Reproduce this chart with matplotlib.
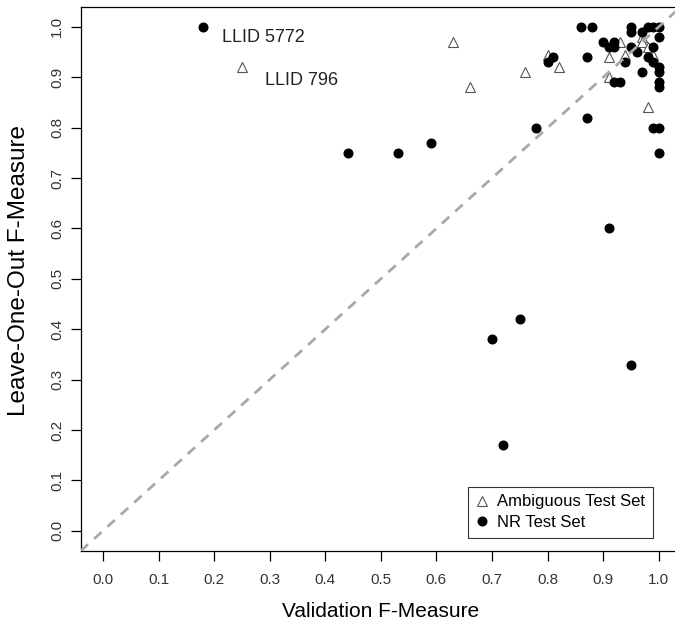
import matplotlib
matplotlib.use("Agg")
import matplotlib.pyplot as plt

plt.rcParams['font.family'] = ['Liberation Sans', 'DejaVu Sans']

# NR test set (filled circles)
nr_x = [0.18, 0.44, 0.53, 0.59, 0.78, 0.87, 0.70, 0.75, 0.72, 0.91, 0.95, 1.00,
        0.99, 1.00, 0.86, 0.88, 0.95, 0.95, 0.98, 0.99, 1.00, 0.97, 1.00,
        0.90, 0.92, 0.91, 0.92, 0.95, 0.96, 0.99, 0.98, 0.99, 1.00, 1.00,
        1.00, 1.00, 0.87, 0.80, 0.81, 0.94, 0.97, 0.92, 0.93]
nr_y = [1.00, 0.75, 0.75, 0.77, 0.80, 0.82, 0.38, 0.42, 0.17, 0.60, 0.33, 0.75,
        0.80, 0.80, 1.00, 1.00, 1.00, 0.99, 1.00, 1.00, 1.00, 0.99, 0.98,
        0.97, 0.97, 0.96, 0.96, 0.96, 0.95, 0.96, 0.94, 0.93, 0.92, 0.91,
        0.89, 0.88, 0.94, 0.93, 0.94, 0.93, 0.91, 0.89, 0.89]

# Ambiguous test set (open triangles)
amb_x = [0.25, 0.63, 0.66, 0.76, 0.80, 0.82, 0.91, 0.91, 0.93, 0.94, 0.97,
         0.97, 0.98, 0.99, 0.98]
amb_y = [0.92, 0.97, 0.88, 0.91, 0.945, 0.92, 0.94, 0.90, 0.97, 0.945, 0.98,
         0.97, 0.96, 0.945, 0.84]

ticks = [0.0, 0.1, 0.2, 0.3, 0.4, 0.5, 0.6, 0.7, 0.8, 0.9, 1.0]
tick_labels = ['0.0', '0.1', '0.2', '0.3', '0.4', '0.5', '0.6', '0.7', '0.8', '0.9', '1.0']

fig = plt.figure(figsize=(6.75, 6.31), dpi=100)
ax = fig.add_axes([80.7 / 675, 80 / 631, 600.3 / 675, 544.3 / 631])

ax.plot(amb_x, amb_y, linestyle='none', marker='^', markersize=7,
        markerfacecolor='white', markeredgecolor='#555555', markeredgewidth=0.8,
        label='Ambiguous Test Set', zorder=3)
ax.plot(nr_x, nr_y, linestyle='none', marker='o', markersize=6.2,
        markerfacecolor='black', markeredgecolor='black',
        label='NR Test Set', zorder=3)
ax.axline((0, 0), slope=1, color='#a8a8a8', linewidth=2, dashes=(3.6, 2.9), zorder=4)

ax.text(0.214, 0.970, 'LLID 5772', fontsize=13, color='#222222', va='baseline')
ax.text(0.292, 0.885, 'LLID 796', fontsize=13, color='#222222', va='baseline')

ax.set_xlim(-0.04, 1.04)
ax.set_ylim(-0.04, 1.04)
ax.set_xticks(ticks)
ax.set_xticklabels(tick_labels)
ax.set_yticks(ticks)
ax.set_yticklabels(tick_labels, rotation=90, va='center')
ax.tick_params(direction='out', length=7, width=0.9, labelsize=11,
               labelcolor='#333333')
ax.tick_params(axis='x', pad=9)
ax.tick_params(axis='y', pad=5)
for s in ax.spines.values():
    s.set_linewidth(0.9)

ax.set_xlabel('Validation F-Measure', fontsize=15)
ax.set_ylabel('Leave-One-Out F-Measure', fontsize=17.5)
ax.xaxis.set_label_coords(0.5, -0.094)
ax.yaxis.set_label_coords(-0.084, 0.515)

leg = ax.legend(loc='lower right', bbox_to_anchor=(652.7 / 675, 1 - 537.7 / 631),
                bbox_transform=fig.transFigure, borderaxespad=0, fontsize=12,
                frameon=True, fancybox=False, framealpha=1, edgecolor='#333333',
                handlelength=0.8, handletextpad=0.5, borderpad=0.45,
                labelspacing=0.35)
leg.get_frame().set_linewidth(0.8)

fig.savefig('out.png', dpi=100)
